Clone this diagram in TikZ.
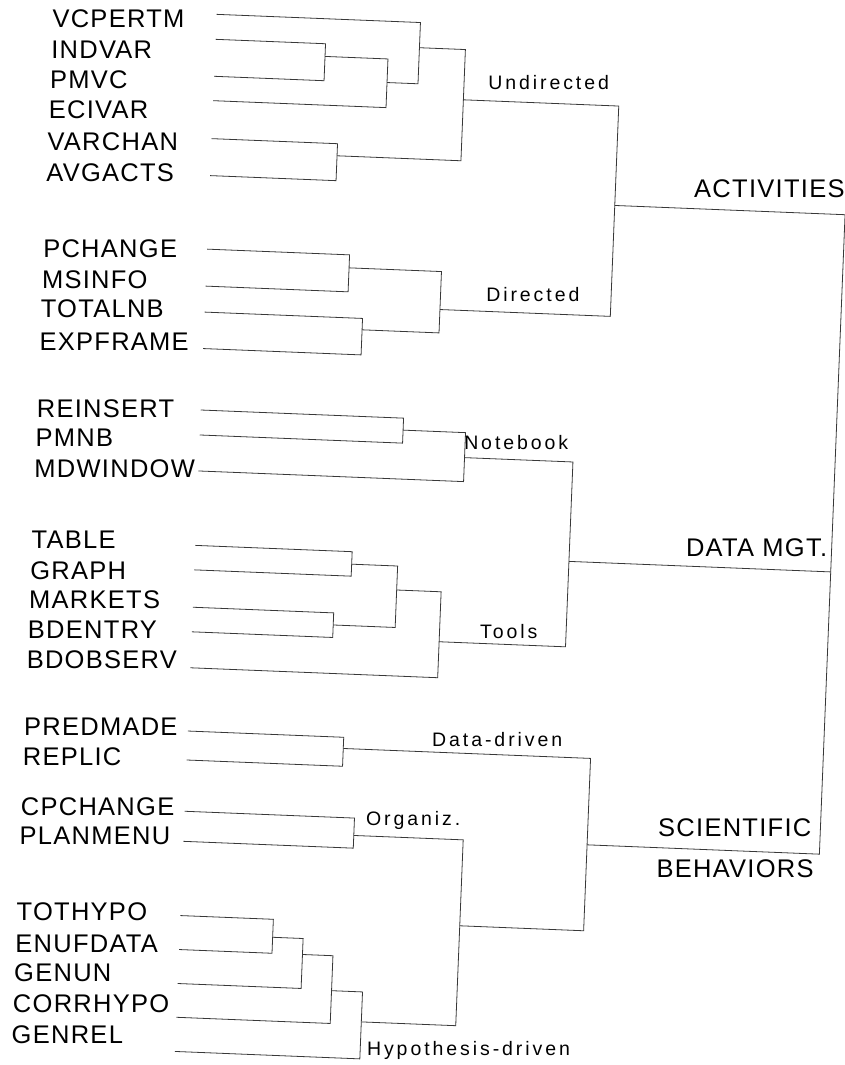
\documentclass[tikz,border=0pt]{standalone}
\usepackage{fontspec}
\newfontfamily\lblfam[LetterSpace=5]{Liberation Sans}
\newfontfamily\grpfam[LetterSpace=15]{Liberation Sans}
\newcommand\mkleaf[4]{%
  \node[leaf] (#1) at (32,#3) {#2};
  \coordinate (#1-s) at (196,#4);}
\newcommand\mrg[3]{\draw[link] (#2) -- (#2 -| #1) -- (#3 -| #1) -- (#3);}
\begin{document}
\begin{tikzpicture}[x=1pt,y=-1pt,
  leaf/.style={anchor=west, inner sep=0pt, font=\lblfam\fontsize{25.5}{30}\selectfont},
  toplbl/.style={inner sep=0pt, font=\lblfam\fontsize{25.5}{30}\selectfont},
  grp/.style={inner sep=0pt, anchor=base west, font=\grpfam\fontsize{19.5}{23}\selectfont},
  link/.style={line width=0.8pt, draw=black!78}]
\useasboundingbox (0,0) rectangle (845,1065);
\clip (0,0) rectangle (845,1065);
\begin{scope}[rotate around={-2.3:(422.5,532.5)}]
% leaves
\mkleaf{vcpertm}{VCPERTM}{34}{23}
\mkleaf{indvar}{INDVAR}{64.6}{48}
\mkleaf{pmvc}{PMVC}{95}{85}
\mkleaf{ecivar}{ECIVAR}{124.8}{109.4}
\mkleaf{varchan}{VARCHAN}{157.4}{147.4}
\mkleaf{avgacts}{AVGACTS}{187.6}{184.4}
\mkleaf{pchange}{PCHANGE}{264.4}{258}
\mkleaf{msinfo}{MSINFO}{295}{295}
\mkleaf{totalnb}{TOTALNB}{324.6}{321}
\mkleaf{expframe}{EXPFRAME}{357}{357.5}
\mkleaf{reinsert}{REINSERT}{424.4}{419}
\mkleaf{pmnb}{PMNB}{453.6}{444}
\mkleaf{mdwindow}{MDWINDOW}{484.5}{480}
\mkleaf{table}{TABLE}{555.4}{554.5}
\mkleaf{graph}{GRAPH}{586}{579}
\mkleaf{markets}{MARKETS}{615.8}{616.4}
\mkleaf{bdentry}{BDENTRY}{645.8}{641}
\mkleaf{bdobserv}{BDOBSERV}{675.6}{677}
\mkleaf{predmade}{PREDMADE}{742.8}{740.3}
\mkleaf{replic}{REPLIC}{772.6}{769.3}
\mkleaf{cpchange}{CPCHANGE}{822.8}{820.6}
\mkleaf{planmenu}{PLANMENU}{851.8}{850.7}
\mkleaf{tothypo}{TOTHYPO}{928.2}{925}
\mkleaf{enufdata}{ENUFDATA}{960}{959}
\mkleaf{genun}{GENUN}{988.6}{993}
\mkleaf{corrhypo}{CORRHYPO}{1020}{1026.8}
\mkleaf{genrel}{GENREL}{1050.6}{1061}
% internal joins
\coordinate (a1) at (306,60.7);
\coordinate (a2) at (369,84.3);
\coordinate (a3) at (400,48.2);
\coordinate (a4) at (322,159.5);
\coordinate (und) at (446,98.5);
\coordinate (d1) at (338.5,271);
\coordinate (d2) at (354,332.4);
\coordinate (dir) at (431,309);
\coordinate (act) at (601.5,198);
\coordinate (n1) at (399,431);
\coordinate (nb) at (461.5,456);
\coordinate (t1) at (353,567);
\coordinate (t2) at (337,628.5);
\coordinate (t3) at (399,591);
\coordinate (tools) at (443.5,641);
\coordinate (dm) at (570,555.5);
\coordinate (p1) at (352,751.5);
\coordinate (c1) at (366,838);
\coordinate (h1) at (289,943);
\coordinate (h2) at (319.5,959);
\coordinate (h3) at (350,994);
\coordinate (h4) at (381,1024);
\coordinate (oh) at (475.5,924);
\coordinate (sci) at (599.5,838);
\coordinate (root) at (832,555.5);
% connectors
\mrg{a1}{indvar-s}{pmvc-s}
\mrg{a2}{a1}{ecivar-s}
\mrg{a3}{vcpertm-s}{a2}
\mrg{a4}{varchan-s}{avgacts-s}
\mrg{und}{a3}{a4}
\mrg{d1}{pchange-s}{msinfo-s}
\mrg{d2}{totalnb-s}{expframe-s}
\mrg{dir}{d1}{d2}
\mrg{act}{und}{dir}
\mrg{n1}{reinsert-s}{pmnb-s}
\mrg{nb}{n1}{mdwindow-s}
\mrg{t1}{table-s}{graph-s}
\mrg{t2}{markets-s}{bdentry-s}
\mrg{t3}{t1}{t2}
\mrg{tools}{t3}{bdobserv-s}
\mrg{dm}{nb}{tools}
\mrg{p1}{predmade-s}{replic-s}
\mrg{c1}{cpchange-s}{planmenu-s}
\mrg{h1}{tothypo-s}{enufdata-s}
\mrg{h2}{h1}{genun-s}
\mrg{h3}{h2}{corrhypo-s}
\mrg{h4}{h3}{genrel-s}
\mrg{oh}{c1}{h4}
\mrg{sci}{p1}{oh}
\draw[link] (act) -- (act -| root) -- (sci -| root) -- (sci);
\draw[link] (dm) -- (dm -| root);
% group labels
\node[grp] (lund) at (470.3,87.4) {Undirected};
\node[grp] (ldir) at (476.8,299.1) {Directed};
\node[grp] (lnb) at (460.7,448.3) {Notebook};
\node[grp] (ltools) at (484.2,636) {Tools};
\node[grp] (ldd) at (440.6,746.3) {Data-driven};
\node[grp] (lorg) at (377.7,827.9) {Organiz.};
\node[grp] (lhyp) at (387.9,1057.2) {Hypothesis-driven};
% top labels
\node[toplbl, anchor=base east] (lact) at (831,181) {ACTIVITIES};
\node[toplbl, anchor=base east] (ldm) at (828,540) {DATA MGT.};
\node[toplbl, anchor=base west] (lsci) at (670,826.7) {SCIENTIFIC};
\node[toplbl, anchor=base west] (lbeh) at (670,868) {BEHAVIORS};
\end{scope}
\end{tikzpicture}
\end{document}
